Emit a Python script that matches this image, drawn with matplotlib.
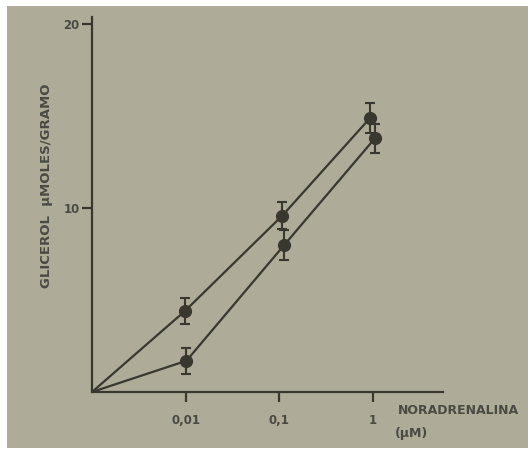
import numpy as np
import matplotlib
matplotlib.use('Agg')
import matplotlib.pyplot as plt
from matplotlib.patches import Rectangle

# data (0 concentration drawn at the origin)
zero_pos = 1.0e-3
conc_upper = [0, 0.0098, 0.108, 0.93]
glic_upper = [0, 4.4, 9.6, 14.9]
err_upper = [0, 0.7, 0.75, 0.8]

conc_lower = [0, 0.0102, 0.113, 1.05]
glic_lower = [0, 1.7, 8.0, 13.8]
err_lower = [0, 0.7, 0.8, 0.8]

xticks = [0.01, 0.1, 1]
xtick_labels = ['0,01', '0,1', '1']
yticks = [10, 20]

paper = '#aeac98'
ink = '#38382f'
text_ink = '#4a4a42'

fig = plt.figure(figsize=(5.28, 4.5), dpi=100)
fig.patch.set_facecolor('white')
fig.patches.append(Rectangle((7 / 528, 2 / 450), 1 - 7 / 528, 1 - 8 / 450,
                             transform=fig.transFigure, facecolor=paper,
                             edgecolor='none', zorder=-10))

ax = fig.add_axes([92 / 528, 1 - 392 / 450, 351 / 528, 375 / 450])
ax.set_facecolor('none')


def pos(xs):
    return [zero_pos if x == 0 else x for x in xs]


for xs, ys, es in [(conc_upper, glic_upper, err_upper),
                   (conc_lower, glic_lower, err_lower)]:
    xp = pos(xs)
    ax.plot(xp, ys, color=ink, lw=1.6, zorder=2)
    ax.errorbar(xp[1:], ys[1:], yerr=es[1:], fmt='o', color=ink, ms=8.5,
                ecolor=ink, elinewidth=1.5, capsize=3.5, capthick=1.5, zorder=3)

ax.set_xscale('log')
ax.set_xlim(zero_pos, 5.6)
ax.set_ylim(0, 20.4)
ax.minorticks_off()
ax.set_xticks(xticks)
ax.set_xticklabels(xtick_labels, fontweight='bold')
ax.set_yticks(yticks)
ax.set_yticklabels([str(t) for t in yticks], fontweight='bold')

for s in ['top', 'right']:
    ax.spines[s].set_visible(False)
for s in ['left', 'bottom']:
    ax.spines[s].set_color(ink)
    ax.spines[s].set_linewidth(1.6)

ax.tick_params(axis='both', colors=ink, length=7, width=1.6, labelsize=8.5,
               labelcolor=text_ink)
ax.tick_params(axis='x', pad=9)
ax.tick_params(axis='y', pad=2)

ax.set_ylabel('GLICEROL  \u03bcMOLES/GRAMO', color=text_ink, fontsize=9.5,
              fontweight='bold')
ax.yaxis.set_label_coords(-0.112, 0.55)

fig.text(458 / 528, 1 - 411 / 450, 'NORADRENALINA', color=text_ink, fontsize=9,
         fontweight='bold', ha='center', va='center')
fig.text(412 / 528, 1 - 433 / 450, '(\u03bcM)', color=text_ink, fontsize=9,
         fontweight='bold', ha='center', va='center')

fig.savefig('out.png', dpi=100)
